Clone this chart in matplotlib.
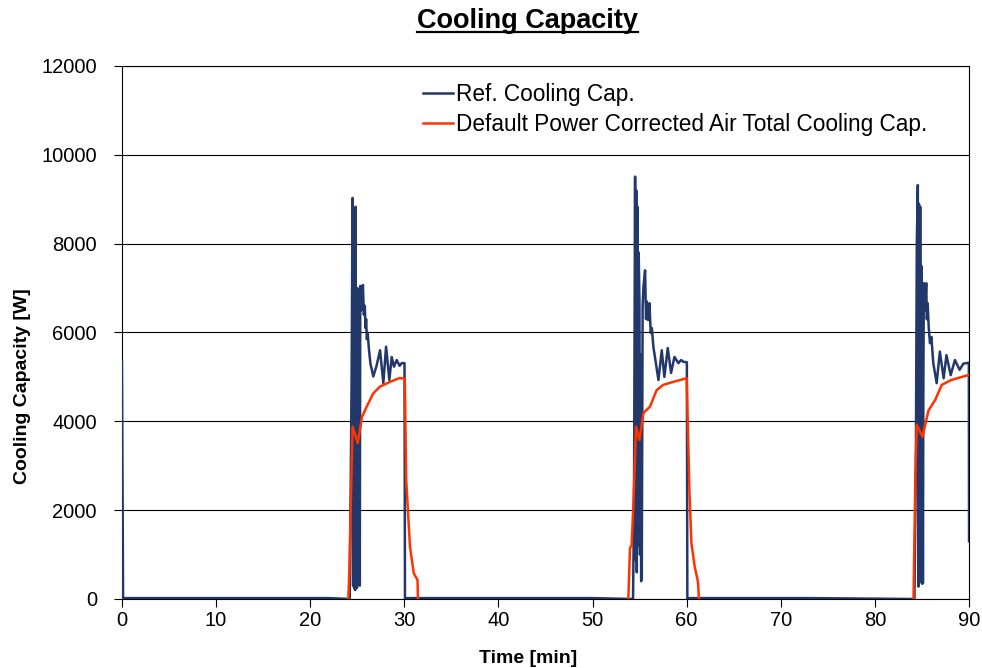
import matplotlib
matplotlib.use("Agg")
import matplotlib.pyplot as plt
import numpy as np

plt.rcParams['font.family'] = ['Liberation Sans', 'DejaVu Sans']

nan = float('nan')

# Ref. cooling capacity (blue) - time [min], capacity [W]
ref_time = [0.0, 0.05, 0.12, 0.3, 22.0, 24.2,
            24.40, 24.50, 24.56, 24.62, 24.67, 24.72, 24.77, 24.82, 24.87, 24.92, 24.97, 25.02,
            25.07, 25.12, 25.17, 25.22, 25.27, 25.32,
            25.45, 25.60, 25.70, 25.80, 25.88, 25.94, 26.02, 26.10, 26.25, 26.40, 26.70, 27.05,
            27.42, 27.77, 28.06, 28.41, 28.66, 28.90, 29.19, 29.50, 29.72, 30.02, 30.07, 30.3,
            50.0, 54.3,
            54.40, 54.52, 54.58, 54.64, 54.70, 54.77, 54.83, 54.90, 54.98, 55.04, 55.10, 55.16,
            55.23, 55.32, 55.41, 55.58, 55.68, 55.76, 55.90, 56.04, 56.18, 56.30, 56.46, 57.00,
            57.35, 57.63, 57.99, 58.34, 58.70, 59.12, 59.40, 59.65, 60.02, 60.07, 60.3,
            73.0, 84.2,
            84.35, 84.45, 84.56, 84.62, 84.68, 84.75, 84.81, 84.87, 84.93, 84.99, 85.05, 85.10,
            85.15, 85.20, 85.32, 85.45, 85.52, 85.60, 85.72, 85.85, 86.00, 86.20, 86.56, 86.90,
            87.30, 87.60, 88.05, 88.50, 89.00, 89.40, 89.75, 89.98, 90.0]
ref_cap = [5350, 3000, 0, 20, 20, 0,
           5000, 9030, 300, 8100, 250, 8700, 200, 8830, 500, 6000, 250, 7000,
           700, 6500, 1500, 6900, 300, 7050,
           6500, 7070, 6400, 6600, 6100, 6300, 5850, 6000, 5600, 5300, 5010, 5250,
           5600, 4860, 5680, 4930, 5450, 5230, 5380, 5250, 5310, 5310, 0, 20,
           20, 0,
           2000, 9510, 880, 9200, 600, 8830, 1200, 7800, 6730, 1000, 5500, 400,
           470, 6600, 7030, 7400, 6300, 6700, 6280, 6660, 5990, 6100, 5680, 4930,
           5600, 5000, 5650, 5090, 5450, 5310, 5380, 5340, 5330, 0, 20,
           20, 0,
           3000, 8000, 9320, 280, 8900, 400, 8830, 600, 7500, 350, 6000, 350,
           5000, 7110, 6500, 7110, 6300, 6660, 6100, 5760, 5900, 5310, 4860, 5570,
           4970, 5490, 5040, 5380, 5160, 5300, 5310, 5320, 1300]

# Default power corrected air total cooling capacity (orange), nan = not shown
air_time = [24.0, 24.05, 24.15, 24.35, 24.50, 25.05, 25.50, 26.00, 26.70, 27.40, 28.50,
            29.50, 30.05, 30.20, 30.60, 31.00, 31.40, 31.45, 31.5,
            53.80, 53.98, 54.15, 54.35, 54.62, 54.98, 55.41, 56.10, 56.80, 57.50, 58.60,
            60.00, 60.30, 60.50, 60.85, 61.20, 61.30, 61.35,
            84.10, 84.20, 84.30, 84.45, 85.05, 85.70, 86.40, 87.10, 88.10, 89.90, 90.0]
air_cap = [0, 0, 580, 2500, 3880, 3510, 4100, 4330, 4630, 4780, 4890,
           4975, 4960, 2680, 1180, 580, 430, 0, nan,
           0, 1150, 1200, 2200, 3880, 3580, 4190, 4330, 4700, 4820, 4890,
           4970, 2380, 1260, 730, 390, 0, nan,
           0, 1400, 2800, 3920, 3650, 4250, 4480, 4820, 4930, 5040, 5050]

fig = plt.figure(figsize=(9.82, 6.68), dpi=100)
ax = fig.add_axes([0.1242, 0.1033, 0.8626, 0.7979])

ax.plot(ref_time, ref_cap, color='#22386a', lw=1.8, label='Ref. Cooling Cap.', zorder=3)
ax.plot(air_time, air_cap, color='#ff3300', lw=1.8,
        label='Default Power Corrected Air Total Cooling Cap.', zorder=4)

ax.set_xlim(0, 90)
ax.set_ylim(0, 12000)
ax.set_xticks(np.arange(0, 91, 10))
ax.set_yticks(np.arange(0, 12001, 2000))
ax.yaxis.grid(True, color='black', lw=0.8)
ax.set_axisbelow(True)
ax.tick_params(labelsize=14.5, direction='out', length=6, width=0.8)
ax.tick_params(axis='y', pad=12)
ax.tick_params(axis='x', pad=3)
for s in ax.spines.values():
    s.set_linewidth(0.8)

ax.set_xlabel('Time [min]', fontsize=14, fontweight='bold')
ax.xaxis.set_label_coords(0.479, -0.095)
ax.set_ylabel('Cooling Capacity [W]', fontsize=14, fontweight='bold')
ax.yaxis.set_label_coords(-0.107, 0.40)

leg = ax.legend(loc='upper left', bbox_to_anchor=(0.355, 0.968), frameon=False,
                fontsize=16.3, handlelength=1.33, handletextpad=0.15, labelspacing=0.3,
                borderpad=0, borderaxespad=0)

title = fig.text(0.5375, 0.969, 'Cooling Capacity', ha='center', va='center',
                 fontsize=19.5, fontweight='bold')
fig.canvas.draw()
bb = title.get_window_extent().transformed(fig.transFigure.inverted())
fig.add_artist(plt.Line2D([bb.x0, bb.x1], [bb.y0 + 0.002, bb.y0 + 0.002],
                          color='black', lw=1.6, transform=fig.transFigure))

fig.savefig('out.png', dpi=100)
